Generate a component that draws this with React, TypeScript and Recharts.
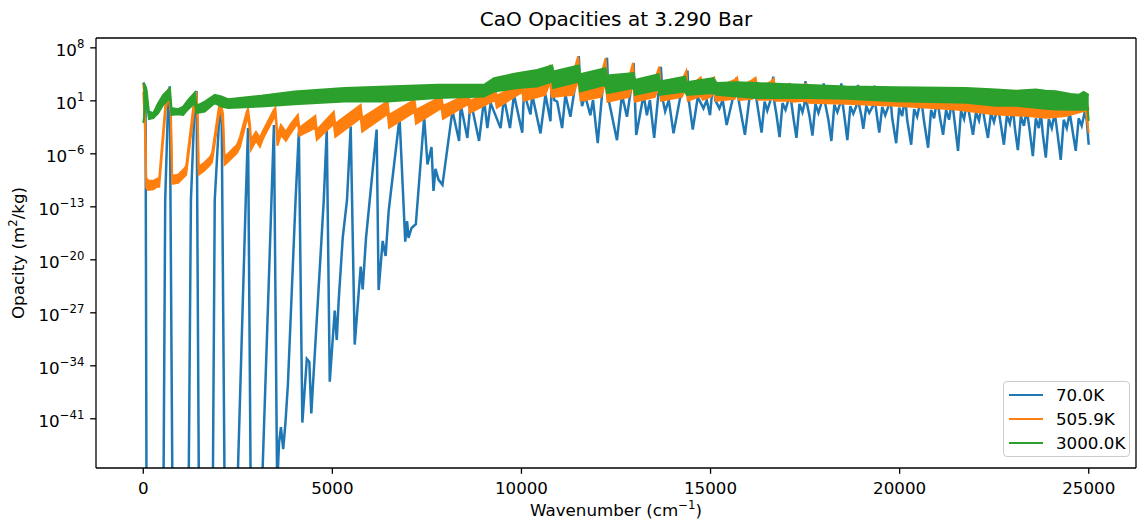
import React from "react";
import { ComposedChart, Area, XAxis, YAxis, Legend } from "recharts";

const FONT = "'DejaVu Sans', sans-serif";
const BLUE = "#1f77b4";
const ORANGE = "#ff7f0e";
const GREEN = "#2ca02c";

const seriesNames = ["70.0K", "505.9K", "3000.0K"];
const xTicks = [0, 5000, 10000, 15000, 20000, 25000];
const yTicks = [8, 1, -6, -13, -20, -27, -34, -41];

// 70.0K: [wavenumber cm^-1, log10 opacity m^2/kg]; -50 sits far below the plotted range
const cold: [number, number][] = [
  [0, 3.4], [60, 2.8], [85, -50],
  [535, -50], [580, -12.1], [660, 1.5], [700, 2.9], [770, -50],
  [1200, -50], [1260, -12.1], [1360, 0.8], [1410, 2.3], [1470, -50],
  [1840, -50], [1890, -12.1], [2000, -2.0], [2070, 0.6], [2150, -50],
  [2490, -50], [2710, -12.1], [2770, -2.6], [2840, -50],
  [3140, -50], [3390, -12.1], [3455, -2.2], [3540, -50],
  [3590, -44.2], [3640, -42.1], [3700, -45.0], [3760, -41.5], [3824, -36.5],
  [4027, -12.1], [4114, -3.1], [4206, -41.5], [4325, -33.1], [4391, -33.5], [4443, -40.3],
  [4773, -12.1], [4852, -2.8], [4931, -36.1], [5063, -26.7], [5116, -30.6], [5168, -25.3],
  [5274, -17.1], [5387, -12.1], [5485, -2.4], [5591, -31.2], [5749, -20.9], [5802, -23.9],
  [5890, -17.1], [6171, -2.8], [6223, -24.0], [6330, -17.5], [6408, -19.5], [6490, -13.5],
  [6777, -1.2], [6927, -17.6], [6975, -14.9], [7014, -17.1], [7093, -15.8], [7207, -15.3],
  [7428, -1.1], [7515, -7.4], [7621, -5.1], [7674, -10.9], [7726, -8.0], [7806, -9.4],
  [7911, -10.1], [8175, -0.3], [8351, -4.3], [8394, 0.5], [8570, -3.9], [8657, 1.0],
  [8879, -4.3], [9011, 1.2], [9098, -2.6], [9185, 0.7], [9448, -2.6], [9538, 1.4],
  [9696, -2.6], [9802, 1.8], [10021, -3.2], [10065, 2.1], [10239, -0.8], [10284, 1.8],
  [10503, -3.3], [10635, 1.8], [10767, -1.7], [10812, 5.4], [10864, 1.1], [10944, 0.9],
  [11075, -2.6], [11162, 1.8], [11294, -1.1], [11444, 3.8], [11515, 6.9], [11563, 2.5],
  [11602, 0.3], [11682, 1.7], [11822, -0.9], [11892, 1.1], [12017, -4.6], [12130, 1.8],
  [12262, 6.7], [12307, 1.1], [12526, -4.2], [12658, 1.8], [12790, -1.1], [12895, 2.5],
  [12966, 6.0], [13001, 1.1], [13035, -3.5], [13230, 1.8], [13317, -0.9], [13396, 1.1],
  [13509, -3.9], [13633, 2.5], [13686, 5.5], [13738, 1.1], [13799, -0.4], [13897, 1.1],
  [14021, -3.3], [14195, 1.4], [14319, 2.5], [14390, 5.0], [14424, 1.1], [14530, -2.8],
  [14662, 1.5], [14812, 0.0], [14899, 1.1], [14986, -0.9], [15076, 4.1], [15123, 1.1],
  [15234, 0.0], [15321, 1.1], [15426, -2.2], [15611, 1.8], [15690, 4.1], [15743, 1.1],
  [15909, -3.5], [16033, 1.5], [16173, 4.0], [16218, 1.1], [16349, -3.2], [16430, 0.9],
  [16500, -0.3], [16580, 1.0], [16658, 4.2], [16692, 0.7], [16745, -0.9], [16825, -3.8],
  [16903, 0.7], [16982, -0.2], [17035, 0.7], [17096, 3.3], [17140, 0.7], [17193, -1.3],
  [17272, -3.9], [17351, 0.6], [17430, -0.5], [17483, 0.6], [17510, 3.6], [17550, 0.6],
  [17616, -1.0], [17695, -3.6], [17774, 0.6], [17853, -0.6], [17919, 0.5], [17992, 3.3],
  [18037, 0.5], [18116, -1.5], [18195, -4.3], [18274, 0.5], [18353, -0.5], [18419, 0.5],
  [18459, 3.3], [18498, 0.5], [18551, -1.5], [18617, -4.2], [18696, 0.3], [18775, -0.7],
  [18854, 0.3], [18899, 3.1], [18934, 0.3], [18986, -0.9], [19039, -2.7], [19118, 0.3],
  [19197, -0.6], [19290, 0.3], [19337, 3.0], [19369, 0.2], [19408, -1.3], [19461, -3.2],
  [19540, 0.2], [19619, -0.9], [19698, 0.2], [19751, 1.7], [19804, -1.3], [19909, -4.6],
  [19988, 0.1], [20067, -1.0], [20147, 1.5], [20199, -1.5], [20305, -4.8], [20384, -0.1],
  [20463, -1.1], [20569, 1.4], [20648, -1.8], [20753, -5.2], [20832, -0.2], [20911, -1.3],
  [20991, 1.3], [21070, -1.3], [21149, -3.5], [21228, -0.2], [21307, -1.5], [21386, 1.1],
  [21465, -2.2], [21544, -5.6], [21623, -0.3], [21703, -1.4], [21782, 0.9], [21861, -1.3],
  [21940, -3.5], [22019, -0.5], [22098, -1.6], [22177, 0.6], [22256, -1.8], [22335, -3.9],
  [22415, -0.6], [22494, -1.8], [22599, 0.3], [22678, -2.2], [22757, -4.8], [22836, -0.9],
  [22915, -2.0], [22995, 0.1], [23047, -2.6], [23126, -5.5], [23206, -1.0], [23285, -2.3],
  [23364, -0.2], [23443, -3.1], [23522, -6.3], [23601, -1.3], [23680, -2.6], [23733, -0.5],
  [23786, -3.4], [23865, -6.5], [23944, -1.4], [24023, -2.6], [24102, -0.6], [24181, -3.6],
  [24260, -6.8], [24339, -1.5], [24419, -2.6], [24498, -0.6], [24577, -3.1], [24656, -5.6],
  [24735, -1.3], [24814, -2.3], [24893, -0.5], [24946, -1.5], [25000, -4.8],
];

// 505.9K: [wavenumber, upper log10, lower log10] of the noisy band
const warm: [number, number, number][] = [
  [0, 3.25, 2.19], [40, 1.13, -2.17], [79, -9.17, -10.49], [132, -9.57, -10.76],
  [264, -9.57, -10.69], [356, -9.3, -10.36], [422, -9.17, -10.36], [593, 1.13, -0.19],
  [659, 2.58, 1.66], [725, 1.13, -0.45], [765, -8.91, -9.96], [923, -8.77, -9.83],
  [1081, -7.98, -9.04], [1134, -7.59, -8.77], [1345, 1.13, -0.19], [1398, 2.19, 1.26],
  [1437, 0.08, -1.51], [1464, -7.72, -8.77], [1609, -7.19, -8.25], [1767, -6.4, -7.45],
  [1820, -5.87, -7.06], [2004, 0.34, -0.72], [2044, 0.87, -0.06], [2110, -0.72, -2.3],
  [2149, -6.4, -7.45], [2241, -6.0, -7.06], [2373, -5.34, -6.4], [2479, -4.81, -5.87],
  [2558, -3.75, -5.08], [2742, -0.32, -1.38], [2769, -0.06, -1.11], [2822, -2.04, -3.09],
  [2848, -4.15, -5.47], [2980, -3.09, -4.28], [3085, -3.89, -5.08], [3164, -2.96, -4.02],
  [3454, -0.19, -1.25], [3494, 0.08, -0.98], [3520, -1.51, -2.57], [3547, -3.62, -4.94],
  [3639, -2.17, -3.49], [3771, -3.09, -4.28], [3903, -2.04, -3.23], [4087, -0.85, -1.91],
  [4127, -2.57, -3.62], [4549, -0.98, -2.57], [4588, -2.83, -4.15], [5037, -0.45, -2.04],
  [5076, -2.04, -3.75], [5749, 0.47, -1.25], [5788, -1.25, -3.09], [6461, 0.91, -0.72],
  [6500, -0.85, -2.57], [7173, 1.13, -0.45], [7212, -0.19, -2.04], [7885, 1.57, 0.08],
  [7924, 0.34, -1.38], [8597, 1.92, 0.6], [8636, 1.0, -0.58], [9309, 2.45, 1.13],
  [9348, 1.66, 0.08], [10021, 3.51, 2.19], [10060, 2.45, 1.0], [10627, 3.77, 1.79],
  [10759, 5.75, 3.51], [10799, 3.51, 1.53], [11365, 4.57, 1.79], [11497, 6.85, 3.77],
  [11563, 3.25, 1.0], [12103, 4.3, 1.53], [12222, 6.64, 3.51], [12275, 2.98, 0.87],
  [12842, 4.04, 1.53], [12948, 5.98, 3.25], [13001, 2.72, 0.87], [13528, 3.77, 1.53],
  [13646, 5.53, 2.98], [13686, 2.72, 1.0], [14240, 3.64, 1.53], [14359, 4.96, 2.72],
  [14398, 2.72, 1.0], [14741, 4.08, 1.66], [14794, 2.72, 1.13], [15005, 3.77, 1.53],
  [15097, 4.08, 2.45], [15137, 2.72, 1.0], [15637, 3.77, 1.26], [15703, 4.08, 2.19],
  [15743, 2.72, 1.13], [16112, 3.77, 1.26], [16191, 4.04, 1.92], [16244, 2.58, 1.13],
  [16587, 3.51, 1.13], [16666, 3.91, 1.26], [16719, 2.58, 1.0], [17088, 3.25, 1.0],
  [17140, 2.45, 0.87], [17536, 3.25, 1.0], [17588, 2.45, 0.74], [18591, 2.32, 0.6],
  [19909, 2.19, 0.34], [21492, 1.92, -0.15], [22546, 1.66, -0.81], [23337, 1.53, -0.98],
  [23865, 1.4, -1.25], [24392, 1.4, -1.02], [24919, 1.26, -0.28], [25000, -0.19, -3.23],
];

// 3000.0K: [wavenumber, upper log10, lower log10]
const hot: [number, number, number][] = [
  [0, 3.4, -1.9], [45, 3.0, -0.2], [87, 2.45, 0.87], [150, -0.41, -1.42],
  [264, -0.62, -1.29], [396, 0.7, -0.62], [527, 1.79, 0.47], [659, 2.45, 1.13],
  [704, 2.68, 1.53], [746, 0.04, -0.85], [923, -0.1, -0.76], [1055, 0.25, -0.85],
  [1187, 1.13, -0.1], [1363, 2.1, 0.7], [1406, 0.34, -0.62], [1627, 0.91, -0.41],
  [1891, 1.79, 0.7], [2065, 1.57, 0.25], [2241, 1.22, 0.04], [3120, 1.66, 0.25],
  [4000, 2.23, 0.56], [5319, 2.68, 0.91], [6461, 2.89, 0.91], [7779, 3.11, 1.36],
  [9011, 3.11, 1.57], [9274, 4.0, 2.23], [9889, 4.66, 2.68], [10416, 5.09, 2.89],
  [10812, 5.66, 3.55], [10838, 4.87, 2.68], [11515, 5.66, 3.55], [11550, 4.53, 2.23],
  [12218, 5.32, 3.11], [12262, 4.34, 2.02], [12966, 4.66, 2.68], [13001, 3.77, 1.79],
  [13625, 4.53, 2.45], [13660, 3.55, 1.79], [14327, 4.21, 2.23], [14372, 3.47, 1.79],
  [15076, 4.0, 2.02], [15163, 3.34, 1.79], [15690, 3.47, 1.57], [16218, 3.34, 1.36],
  [17272, 3.15, 1.4], [18591, 2.89, 1.26], [19909, 2.81, 0.96], [21755, 2.68, 0.74],
  [22546, 2.49, 0.34], [23074, 2.32, 0.34], [23601, 2.49, 0.08], [23865, 2.32, -0.06],
  [24129, 2.28, -0.15], [24524, 1.92, -0.19], [24735, 1.79, -0.19], [24867, 2.19, -0.19],
  [24973, 1.86, -0.06], [25000, 1.75, -1.64],
];

const coldData = cold.map(([v, y]) => ({ v, y }));
const warmData = warm.map(([v, hi, lo]) => ({ v, band: [lo, hi] }));
const hotData = hot.map(([v, hi, lo]) => ({ v, band: [lo, hi] }));

const colors = [BLUE, ORANGE, GREEN];

function PowerTick(props: any) {
  const { x, y, payload } = props;
  const exp = String(payload.value).replace("-", "\u2212");
  return (
    <text x={x} y={y + 8} textAnchor="end" fontFamily={FONT} fontSize={16.7} fill="#000">
      10
      <tspan dy={-8} fontSize={11.7}>{exp}</tspan>
    </text>
  );
}

function LegendBox() {
  return (
    <div
      style={{
        width: 127,
        height: 76,
        boxSizing: "border-box",
        border: "1px solid #cccccc",
        borderRadius: 4,
        background: "rgba(255,255,255,0.8)",
        fontFamily: FONT,
        fontSize: 16.7,
        padding: "1px 0 0 5px",
      }}
    >
      {seriesNames.map((name, i) => (
        <div key={name} style={{ display: "flex", alignItems: "center", height: 24 }}>
          <div style={{ width: 34, height: 2.5, background: colors[i] }} />
          <span style={{ marginLeft: 13, lineHeight: "20px" }}>{name}</span>
        </div>
      ))}
    </div>
  );
}

export default function App() {
  const axisStroke = { stroke: "#000", strokeWidth: 1.3 };
  return (
    <div style={{ position: "absolute", left: 0, top: 0, width: 1137, height: 526, background: "#fff" }}>
      <div
        style={{
          position: "absolute",
          left: 96,
          top: 7,
          width: 1040,
          textAlign: "center",
          fontFamily: FONT,
          fontSize: 20,
          lineHeight: "24px",
        }}
      >
        CaO Opacities at 3.290 Bar
      </div>
      <ComposedChart width={1137} height={526} margin={{ top: 37, right: 0, bottom: 0, left: 0 }}>
        <XAxis
          xAxisId="b"
          dataKey="v"
          type="number"
          domain={[-1250, 26250]}
          ticks={xTicks}
          allowDataOverflow
          height={58}
          tickSize={5.8}
          tickMargin={8}
          axisLine={axisStroke}
          tickLine={axisStroke}
          tick={{ fill: "#000", fontSize: 16.7, fontFamily: FONT }}
          label={{
            content: () => (
              <text x={616} y={516} textAnchor="middle" fontFamily={FONT} fontSize={16.7} fill="#000">
                Wavenumber (cm
                <tspan dy={-7} fontSize={11.7}>{"\u22121"}</tspan>
                <tspan dy={7}>)</tspan>
              </text>
            ),
          }}
        />
        <XAxis
          xAxisId="t"
          orientation="top"
          dataKey="v"
          type="number"
          domain={[-1250, 26250]}
          allowDataOverflow
          height={1}
          tick={false}
          tickLine={false}
          axisLine={axisStroke}
        />
        <YAxis
          yAxisId="l"
          type="number"
          domain={[-47.5, 9.3]}
          ticks={yTicks}
          interval={0}
          allowDataOverflow
          width={96}
          tickSize={5.8}
          tickMargin={5.8}
          axisLine={axisStroke}
          tickLine={axisStroke}
          tick={<PowerTick />}
          label={{
            content: () => (
              <text
                transform="translate(24,253) rotate(-90)"
                textAnchor="middle"
                fontFamily={FONT}
                fontSize={16.7}
                fill="#000"
              >
                Opacity (m
                <tspan dy={-7} fontSize={11.7}>2</tspan>
                <tspan dy={7}>/kg)</tspan>
              </text>
            ),
          }}
        />
        <YAxis
          yAxisId="r"
          orientation="right"
          type="number"
          domain={[-47.5, 9.3]}
          allowDataOverflow
          width={1}
          tick={false}
          tickLine={false}
          axisLine={axisStroke}
        />
        {/* the 70 K trace is an unfilled area so it stays in the same layer, beneath the bands */}
        <Area
          xAxisId="b"
          yAxisId="l"
          data={coldData}
          dataKey="y"
          type="linear"
          stroke={BLUE}
          strokeWidth={2.5}
          fill="none"
          fillOpacity={0}
          dot={false}
          activeDot={false}
          isAnimationActive={false}
        />
        <Area
          xAxisId="b"
          yAxisId="l"
          data={warmData}
          dataKey="band"
          type="linear"
          stroke={ORANGE}
          strokeWidth={2}
          fill={ORANGE}
          fillOpacity={1}
          dot={false}
          activeDot={false}
          isAnimationActive={false}
        />
        <Area
          xAxisId="b"
          yAxisId="l"
          data={hotData}
          dataKey="band"
          type="linear"
          stroke={GREEN}
          strokeWidth={2}
          fill={GREEN}
          fillOpacity={1}
          dot={false}
          activeDot={false}
          isAnimationActive={false}
        />
        <Legend
          layout="horizontal"
          verticalAlign="middle"
          align="center"
          content={() => <LegendBox />}
          wrapperStyle={{ left: 1003, top: 381, width: 127, height: 76 }}
        />
      </ComposedChart>
    </div>
  );
}
